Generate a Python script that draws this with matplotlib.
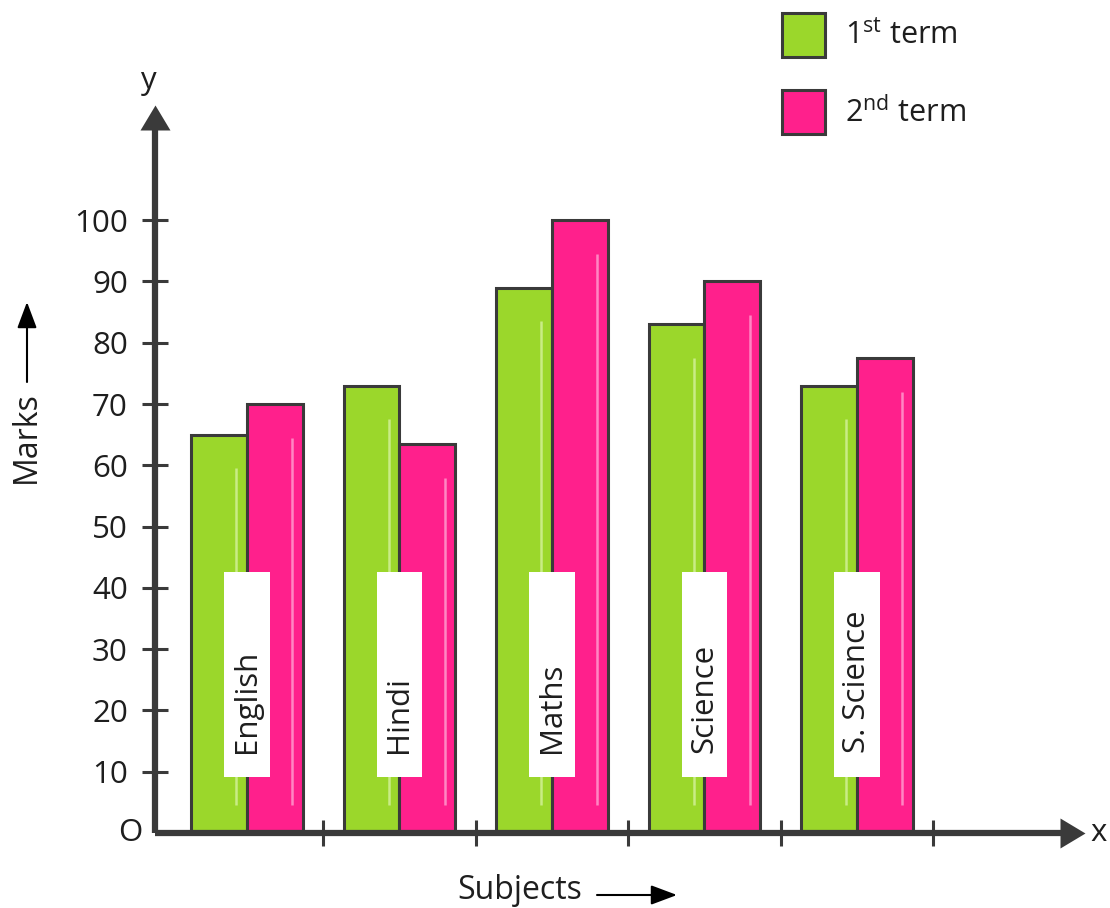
import numpy as np
import matplotlib
matplotlib.use("Agg")
import matplotlib.pyplot as plt
from matplotlib.patches import Patch

# data
subjects = ["English", "Hindi", "Maths", "Science", "S. Science"]
term1 = [65, 73, 89, 83, 73]
term2 = [70, 63.5, 100, 90, 77.5]
yticks = [10, 20, 30, 40, 50, 60, 70, 80, 90, 100]
legend_labels = ["1$^{\\mathrm{st}}$ term", "2$^{\\mathrm{nd}}$ term"]

green = "#9bd72b"
pink = "#ff208c"
dark = "#3a3a3a"
txt = "#1e1e1e"

plt.rcParams["font.family"] = ["Open Sans", "DejaVu Sans"]
plt.rcParams["mathtext.fontset"] = "custom"
plt.rcParams["mathtext.rm"] = "Open Sans"

fig = plt.figure(figsize=(11.1, 9.08), dpi=100)
ax = fig.add_axes([155 / 1110, 75 / 908, 930 / 1110, 728 / 908])

x = np.arange(len(subjects))
w = 0.367
ax.bar(x - w / 2, term1, w, color=green, edgecolor=dark, linewidth=2.2, zorder=3)
ax.bar(x + w / 2, term2, w, color=pink, edgecolor=dark, linewidth=2.2, zorder=3)

# thin glossy streaks inside the bars
ax.vlines(x - w / 2 + w * 0.31, 4.5, np.array(term1) - 5.5, colors="#c9ec86", lw=1.8, zorder=4)
ax.vlines(x + w / 2 + w * 0.31, 4.5, np.array(term2) - 5.5, colors="#ff86c3", lw=1.8, zorder=4)

# white label boxes with subject names
ax.bar(x, 33.5, 0.30, bottom=9.1, color="white", zorder=5)
for xi, s in zip(x, subjects):
    ax.text(xi, 13.0, s, rotation=90, ha="center", va="bottom",
            fontsize=22.5, color=txt, zorder=6)

ax.set_xlim(-0.603, 5.495)
ax.set_ylim(0, 118.8)
for sp in ax.spines.values():
    sp.set_visible(False)

# axis lines with arrow heads
ax.plot([0, 0], [0, 0.97], transform=ax.transAxes, color=dark, lw=4.5,
        clip_on=False, solid_capstyle="butt", zorder=7)
ax.plot([0, 0.975], [0, 0], transform=ax.transAxes, color=dark, lw=4.5,
        clip_on=False, solid_capstyle="butt", zorder=7)
ax.plot(0, 1, transform=ax.transAxes, marker=[(0, 0), (-0.6, -1), (0.6, -1), (0, 0)],
        ms=36, color=dark, mew=0, clip_on=False, zorder=7)
ax.plot(1, 0, transform=ax.transAxes, marker=[(0, 0), (-1, 0.6), (-1, -0.6), (0, 0)],
        ms=36, color=dark, mew=0, clip_on=False, zorder=7)

ax.set_yticks(yticks)
ax.set_xticks(x + 0.5)
ax.set_xticklabels([])
ax.tick_params(axis="both", direction="inout", length=19, width=2.2, color=dark)
ax.tick_params(axis="y", pad=10, labelsize=22.5, labelcolor=txt)

ax.annotate("O", xy=(0, 0), xycoords="axes fraction", xytext=(-9, 0),
            textcoords="offset points", ha="right", va="center", fontsize=22.5, color=txt)
ax.annotate("y", xy=(0, 1), xycoords="axes fraction", xytext=(-5, 17),
            textcoords="offset points", ha="center", va="center", fontsize=22.5, color=txt)
ax.annotate("x", xy=(1, 0), xycoords="axes fraction", xytext=(4, 0),
            textcoords="offset points", ha="left", va="center", fontsize=22.5, color=txt)

# axis titles with arrows
fig.text(26 / 1110, 1 - 437 / 908, "Marks", rotation=90, ha="center", va="center",
         fontsize=23, color=txt)
fig.add_artist(plt.Annotation("", xy=(27, 606), xycoords="figure pixels",
                              xytext=(27, 526), textcoords="figure pixels",
                              arrowprops=dict(arrowstyle="-|>,head_length=0.8,head_width=0.3",
                                              lw=1.5, color="black", mutation_scale=20,
                                              shrinkA=0, shrinkB=0)))
fig.text(520 / 1110, 9 / 908, "Subjects", ha="center", va="baseline", fontsize=23, color=txt)
fig.add_artist(plt.Annotation("", xy=(677, 13), xycoords="figure pixels",
                              xytext=(597, 13), textcoords="figure pixels",
                              arrowprops=dict(arrowstyle="-|>,head_length=0.8,head_width=0.3",
                                              lw=1.5, color="black", mutation_scale=20,
                                              shrinkA=0, shrinkB=0)))

handles = [Patch(facecolor=green, edgecolor=dark, linewidth=2.2),
           Patch(facecolor=pink, edgecolor=dark, linewidth=2.2)]
fig.legend(handles, legend_labels, loc="upper left", bbox_to_anchor=(782 / 1110, 1 - 13 / 908),
           frameon=False, fontsize=22, handlelength=1.41, handleheight=1.84,
           handletextpad=0.65, labelspacing=1.08, borderpad=0, borderaxespad=0,
           labelcolor=txt)

fig.savefig("out.png", dpi=100)
